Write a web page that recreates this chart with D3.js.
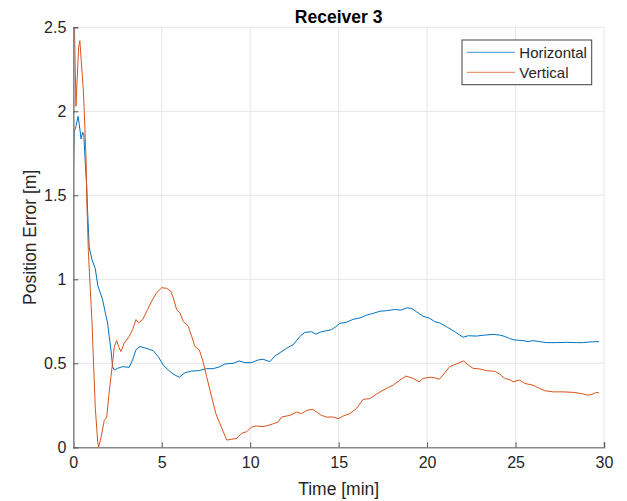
<!DOCTYPE html>
<html>
<head>
<meta charset="utf-8">
<script src="https://cdn.jsdelivr.net/npm/d3@7"></script>
<style>
  html, body { margin: 0; padding: 0; background: #fff; }
  svg { display: block; font-family: "Liberation Sans", Arial, Helvetica, sans-serif; }
</style>
</head>
<body>
<svg id="chart" width="627" height="501"></svg>
<script>
// Receiver 3 position error over time
const chartTitle = "Receiver 3";
const xLabel = "Time [min]";
const yLabel = "Position Error [m]";
const seriesNames = ["Horizontal", "Vertical"];
const seriesColors = ["#0072BD", "#D95319"];
const xTicks = [0, 5, 10, 15, 20, 25, 30];
const yTicks = [0, 0.5, 1, 1.5, 2, 2.5];

// Horizontal error samples: time [min], error [m]
const hTime = [0, 0.06, 0.15, 0.27, 0.34, 0.44, 0.53, 0.59, 0.68, 0.76, 0.81, 0.9, 1.06, 1.24, 1.38, 1.47, 1.66, 1.81, 1.94, 2.03, 2.13, 2.22, 2.32, 2.5, 2.79, 3.16, 3.35, 3.54, 3.77, 4.1, 4.52, 4.8, 5.08, 5.37, 5.65, 5.99, 6.31, 6.69, 7.06, 7.54, 7.91, 8.29, 8.57, 9.04, 9.38, 9.7, 10.08, 10.45, 10.73, 11.11, 11.4, 11.68, 12.06, 12.43, 12.81, 13.09, 13.47, 13.71, 14.03, 14.32, 14.6, 14.84, 15.07, 15.44, 15.82, 16.2, 16.58, 16.95, 17.33, 17.7, 18.17, 18.55, 18.84, 19.12, 19.4, 19.77, 20.15, 20.43, 20.72, 21.1, 21.57, 21.85, 22.03, 22.32, 22.79, 23.16, 23.73, 24.1, 24.39, 24.67, 24.95, 25.42, 25.71, 25.99, 26.37, 26.74, 27.31, 27.87, 28.44, 28.82, 29.19, 29.72];
const hValues = [1.6, 1.88, 1.91, 1.97, 1.92, 1.835, 1.875, 1.865, 1.69, 1.55, 1.4, 1.19, 1.115, 1.065, 0.966, 0.936, 0.877, 0.8, 0.74, 0.66, 0.58, 0.48, 0.46, 0.47, 0.48, 0.476, 0.52, 0.58, 0.6, 0.59, 0.575, 0.54, 0.49, 0.46, 0.436, 0.417, 0.444, 0.454, 0.456, 0.468, 0.468, 0.48, 0.496, 0.5, 0.514, 0.504, 0.504, 0.52, 0.524, 0.51, 0.543, 0.563, 0.59, 0.61, 0.66, 0.684, 0.688, 0.674, 0.688, 0.694, 0.7, 0.718, 0.738, 0.744, 0.762, 0.77, 0.787, 0.797, 0.81, 0.813, 0.82, 0.817, 0.83, 0.827, 0.807, 0.78, 0.768, 0.748, 0.74, 0.718, 0.688, 0.668, 0.655, 0.664, 0.662, 0.667, 0.672, 0.668, 0.66, 0.647, 0.639, 0.635, 0.629, 0.635, 0.629, 0.623, 0.623, 0.625, 0.623, 0.623, 0.627, 0.629];

// Vertical error samples: time [min], error [m]
const vTime = [0, 0.03, 0.15, 0.3, 0.37, 0.49, 0.57, 0.62, 0.72, 0.77, 0.85, 0.96, 1.06, 1.13, 1.24, 1.38, 1.43, 1.57, 1.75, 1.89, 2.0, 2.13, 2.22, 2.32, 2.45, 2.56, 2.69, 2.88, 3.16, 3.35, 3.54, 3.69, 3.92, 4.2, 4.43, 4.71, 5.0, 5.28, 5.5, 5.65, 5.84, 6.03, 6.21, 6.5, 6.69, 6.88, 7.12, 7.31, 7.54, 7.82, 8.06, 8.29, 8.48, 8.67, 8.95, 9.23, 9.51, 9.8, 10.08, 10.36, 10.73, 11.0, 11.3, 11.58, 11.77, 12.24, 12.62, 12.9, 13.19, 13.53, 13.75, 14.03, 14.32, 14.69, 14.97, 15.25, 15.63, 16.0, 16.38, 16.76, 17.14, 17.51, 17.8, 18.08, 18.46, 18.8, 19.21, 19.55, 19.77, 20.15, 20.43, 20.68, 20.9, 21.28, 21.66, 22.07, 22.32, 22.6, 22.98, 23.36, 23.83, 24.1, 24.39, 24.67, 24.86, 25.24, 25.52, 25.99, 26.37, 26.65, 27.12, 27.68, 28.25, 28.72, 29.1, 29.38, 29.53, 29.72];
const vValues = [1.1, 2.7, 2.03, 2.38, 2.42, 2.24, 2.12, 2.0, 1.72, 1.45, 1.17, 0.94, 0.74, 0.54, 0.24, 0.03, 0.0, 0.06, 0.16, 0.18, 0.3, 0.42, 0.5, 0.6, 0.635, 0.6, 0.57, 0.62, 0.66, 0.7, 0.76, 0.74, 0.76, 0.82, 0.87, 0.92, 0.95, 0.946, 0.93, 0.89, 0.82, 0.8, 0.75, 0.72, 0.66, 0.6, 0.58, 0.52, 0.42, 0.3, 0.2, 0.14, 0.093, 0.043, 0.048, 0.053, 0.083, 0.093, 0.12, 0.127, 0.123, 0.13, 0.14, 0.15, 0.18, 0.19, 0.21, 0.2, 0.22, 0.226, 0.21, 0.19, 0.18, 0.18, 0.17, 0.186, 0.2, 0.23, 0.285, 0.29, 0.317, 0.34, 0.355, 0.37, 0.4, 0.424, 0.41, 0.39, 0.41, 0.417, 0.414, 0.405, 0.43, 0.48, 0.496, 0.514, 0.49, 0.47, 0.466, 0.456, 0.452, 0.436, 0.41, 0.402, 0.39, 0.4, 0.38, 0.37, 0.35, 0.337, 0.33, 0.33, 0.327, 0.32, 0.31, 0.317, 0.325, 0.325];

const svg = d3.select("#chart");
const margin = { left: 73.3, right: 627 - 604, top: 27.3, bottom: 501 - 447.3 };
const W = 627, H = 501;
const x0 = margin.left, x1 = W - margin.right, y0 = H - margin.bottom, y1 = margin.top;

const x = d3.scaleLinear().domain([0, 30]).range([x0, x1]);
const y = d3.scaleLinear().domain([0, 2.5]).range([y0, y1]);

const textColor = "#262626";

// grid
const grid = svg.append("g");
grid.selectAll("line.gx").data(xTicks.filter(d => d > 0)).join("line")
  .attr("x1", d => x(d)).attr("x2", d => x(d))
  .attr("y1", y0).attr("y2", y1)
  .attr("stroke", "#e6e6e6").attr("stroke-width", 1);
grid.selectAll("line.gy").data(yTicks.filter(d => d > 0)).join("line")
  .attr("x1", x0).attr("x2", x1)
  .attr("y1", d => y(d)).attr("y2", d => y(d))
  .attr("stroke", "#e6e6e6").attr("stroke-width", 1);

// data lines
svg.append("defs").append("clipPath").attr("id", "plotClip")
  .append("rect").attr("x", x0).attr("y", y1).attr("width", x1 - x0).attr("height", y0 - y1);

const line = d3.line().x(d => x(d[0])).y(d => y(d[1]));
const series = [
  hTime.map((t, i) => [t, hValues[i]]),
  vTime.map((t, i) => [t, vValues[i]])
];
const plot = svg.append("g").attr("clip-path", "url(#plotClip)");
series.forEach((s, i) => {
  plot.append("path").datum(s)
    .attr("d", line)
    .attr("fill", "none")
    .attr("stroke", seriesColors[i])
    .attr("stroke-width", 1)
    .attr("stroke-linejoin", "round");
});

// axes (ticks pointing inward, box off)
const xAxis = d3.axisBottom(x).tickValues(xTicks).tickSize(-5).tickPadding(9).tickFormat(d3.format("d"));
const yAxis = d3.axisLeft(y).tickValues(yTicks).tickSize(-5).tickPadding(7).tickFormat(d => String(d));

const gx = svg.append("g").attr("transform", `translate(0,${y0})`).call(xAxis);
const gy = svg.append("g").attr("transform", `translate(${x0},0)`).call(yAxis);
[gx, gy].forEach(g => {
  g.select(".domain").attr("stroke", "#8a8a8a").attr("stroke-width", 1.6);
  g.selectAll(".tick line").attr("stroke", "#555").attr("stroke-width", 1);
  g.selectAll(".tick text").attr("fill", textColor)
    .style("font-size", "16px").style("font-family", "'Liberation Sans', Arial, sans-serif");
});
gx.selectAll(".tick text").attr("dy", "0.71em");

// title and labels
svg.append("text").attr("x", (x0 + x1) / 2).attr("y", 22.5)
  .attr("text-anchor", "middle").attr("fill", "#000")
  .style("font-size", "17.5px").style("font-weight", "bold").text(chartTitle);
svg.append("text").attr("x", (x0 + x1) / 2).attr("y", 494.5)
  .attr("text-anchor", "middle").attr("fill", textColor)
  .style("font-size", "17.5px").text(xLabel);
svg.append("text")
  .attr("transform", `translate(35.5,${(y0 + y1) / 2}) rotate(-90)`)
  .attr("text-anchor", "middle").attr("fill", textColor)
  .style("font-size", "17.5px").text(yLabel);

// legend
const leg = svg.append("g");
leg.append("rect").attr("x", 462).attr("y", 40).attr("width", 129.7).attr("height", 44.7)
  .attr("fill", "#fff").attr("stroke", "#404040").attr("stroke-width", 1);
seriesNames.forEach((name, i) => {
  const cy = 52.3 + i * 20;
  leg.append("line").attr("x1", 466.7).attr("x2", 515).attr("y1", cy).attr("y2", cy)
    .attr("stroke", seriesColors[i]).attr("stroke-width", 1).attr("opacity", 0.75);
  leg.append("text").attr("x", 519.3).attr("y", cy + 6)
    .attr("fill", textColor).style("font-size", "15px").text(name);
});
</script>
</body>
</html>
